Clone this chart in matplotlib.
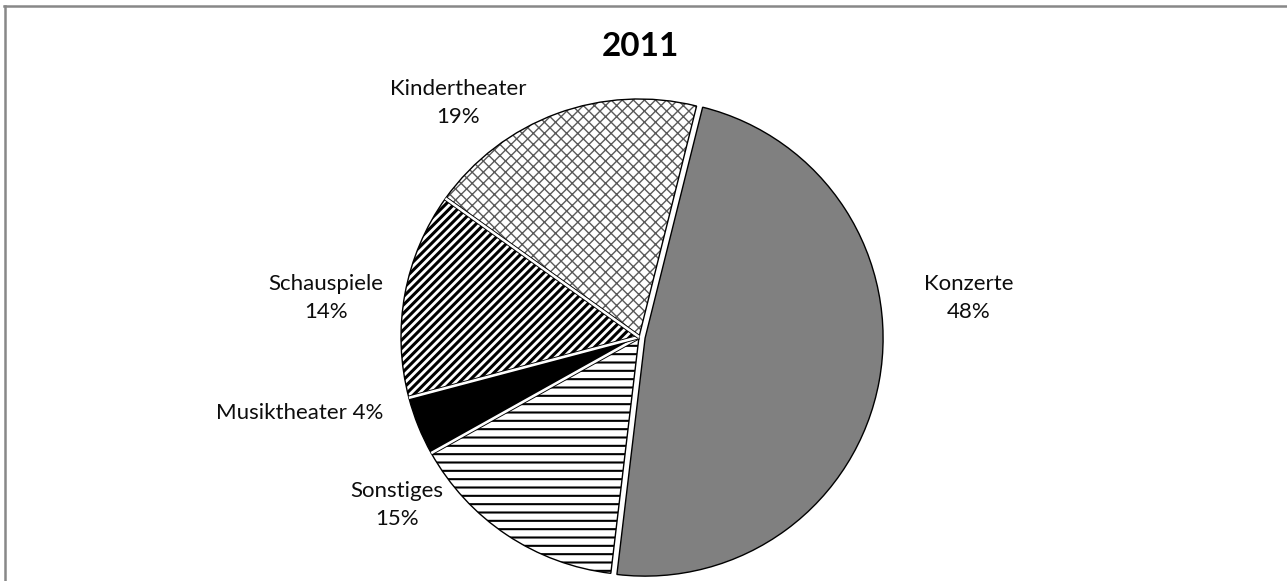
import numpy as np
import matplotlib
matplotlib.use("Agg")
import matplotlib.pyplot as plt
from matplotlib.lines import Line2D

plt.rcParams['font.family'] = ['Lato', 'DejaVu Sans']

# data (clockwise from the top, as in the original)
categories = ["Konzerte", "Sonstiges", "Musiktheater", "Schauspiele", "Kindertheater"]
shares = [48, 15, 4, 14, 19]
title = "2011"

# styling per slice
face_colors = ["#808080", "white", "black", "white", "white"]
hatch_colors = ["#808080", "black", "black", "black", "#5a5a5a"]
hatches = [None, "--", None, "////", "xxx"]
hatch_widths = [1.0, 1.5, 1.0, 2.2, 1.0]
explode_frac = [0.026, 0, 0, 0, 0]

# label text positions in pixels (x, y from top) and one- or two-line layout
label_pos = [(969, 298), (397, 505), (300, 413), (326, 298), (458, 103)]
label_two_lines = [True, True, False, True, True]

W, H = 1287, 581
fig = plt.figure(figsize=(W / 100, H / 100), dpi=100)
ax = fig.add_axes([0, 0, 1, 1])

center = (639, H - 337)
radius = 238
explode = [e * radius for e in explode_frac]

wedges, _ = ax.pie(shares, startangle=76, counterclock=False, explode=explode,
                   center=center, radius=radius, frame=True)
for w, fc, hc, h, hw in zip(wedges, face_colors, hatch_colors, hatches, hatch_widths):
    w.set_facecolor(fc)
    w.set_edgecolor(hc)
    w.set_linewidth(0)
    if h:
        w.set_hatch(h)
        if hasattr(w, "set_hatch_linewidth"):
            w.set_hatch_linewidth(hw)

# outlines
ax.pie(shares, startangle=76, counterclock=False, explode=explode,
       center=center, radius=radius, frame=True,
       wedgeprops=dict(facecolor='none', edgecolor='black', linewidth=1.0))

# white separators between the non-exploded slices
for w in wedges[1:-1]:
    a = np.deg2rad(w.theta1)
    xs = [center[0], center[0] + radius * np.cos(a)]
    ys = [center[1], center[1] + radius * np.sin(a)]
    ax.plot(xs, ys, color='black', lw=3.2, solid_capstyle='butt')
    ax.plot(xs, ys, color='white', lw=1.9, solid_capstyle='butt')

ax.set_xlim(0, W)
ax.set_ylim(0, H)
ax.set_aspect('equal')
ax.axis('off')

for cat, val, (lx, ly), two in zip(categories, shares, label_pos, label_two_lines):
    txt = f"{cat}\n{val}%" if two else f"{cat} {val}%"
    ax.text(lx, H - ly, txt, ha='center', va='center', fontsize=16,
            color='#0d0d0d', linespacing=1.5)

ax.text(W / 2 - 3, H - 46, title, ha='center', va='center', fontsize=24,
        fontweight='bold', color='black')

# chart frame
fig.add_artist(Line2D([4 / W, 1286 / W], [1 - 5.5 / H, 1 - 5.5 / H],
                      transform=fig.transFigure, color='#888888', lw=1.8))
fig.add_artist(Line2D([4.5 / W, 4.5 / W], [0, 1 - 5.5 / H],
                      transform=fig.transFigure, color='#888888', lw=1.8))

fig.savefig("out.png", dpi=100, facecolor='white')
